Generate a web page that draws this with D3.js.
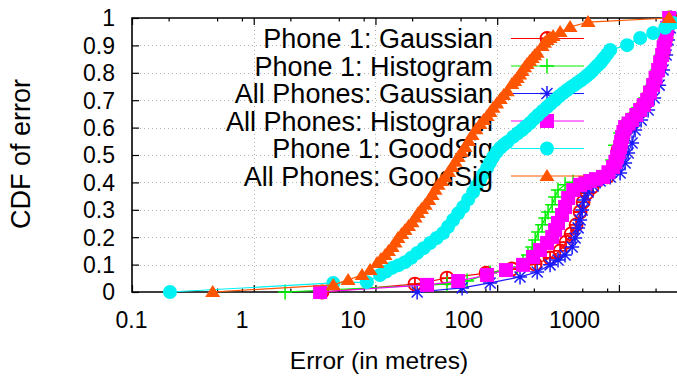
<!DOCTYPE html>
<html>
<head>
<meta charset="utf-8">
<script src="https://cdn.jsdelivr.net/npm/d3@7"></script>
<style>
  body { margin: 0; background: #fff; }
  svg { display: block; }
  text { font-family: "Liberation Sans", Arial, Helvetica, sans-serif; fill: #000; }
</style>
</head>
<body>
<svg id="chart" width="677" height="378"></svg>
<script>
// ---- Data: localisation error (metres) and CDF value for each method ----
const seriesNames = [
  "Phone 1: Gaussian", "Phone 1: Histogram", "All Phones: Gaussian",
  "All Phones: Histogram", "Phone 1: GoodSig", "All Phones: GoodSig"
];

const phone1GaussianErr = [3.64, 21.1, 38.7, 81.1, 132, 205, 272, 329, 368, 405, 445, 480, 508, 548, 602, 675, 800, 912, 984, 1062, 1167, 1333, 1552, 1738, 1946, 2140, 2306, 2443, 2536, 2636];
const phone1GaussianCdf = [0, 0.029, 0.051, 0.069, 0.084, 0.102, 0.124, 0.150, 0.182, 0.212, 0.245, 0.292, 0.328, 0.361, 0.383, 0.409, 0.420, 0.464, 0.518, 0.562, 0.602, 0.635, 0.675, 0.712, 0.763, 0.818, 0.872, 0.927, 0.971, 1];

const phone1HistogramErr = [1.81, 38.7, 56.6, 87.5, 146, 163, 179, 194, 205, 217, 234, 248, 262, 283, 299, 316, 361, 420, 580, 741, 879, 929, 1023, 1191, 1439, 1641, 1874, 2060, 2222, 2350, 2443, 2536];
const phone1HistogramCdf = [0, 0.029, 0.040, 0.069, 0.091, 0.109, 0.135, 0.164, 0.190, 0.219, 0.245, 0.270, 0.292, 0.318, 0.347, 0.372, 0.391, 0.401, 0.409, 0.423, 0.482, 0.536, 0.580, 0.628, 0.672, 0.708, 0.755, 0.810, 0.865, 0.920, 0.964, 1];

const allGaussianErr = [22.0, 51.5, 87.5, 154, 213, 272, 316, 361, 413, 437, 462, 480, 499, 518, 558, 614, 701, 848, 1023, 1124, 1191, 1283, 1358, 1522, 1738, 1946, 2140, 2306, 2443, 2536, 2636, 2685];
const allGaussianCdf = [0, 0.015, 0.033, 0.055, 0.073, 0.099, 0.117, 0.135, 0.164, 0.197, 0.234, 0.263, 0.299, 0.336, 0.365, 0.387, 0.405, 0.420, 0.434, 0.471, 0.507, 0.544, 0.591, 0.628, 0.664, 0.708, 0.755, 0.810, 0.865, 0.920, 0.964, 1];

const allHistogramErr = [3.51, 26.5, 47.8, 82.6, 118, 163, 197, 225, 257, 283, 299, 316, 341, 361, 383, 421, 480, 530, 580, 650, 741, 820, 895, 935, 966, 995, 1023, 1042, 1062, 1090, 1124, 1200, 1283, 1390, 1493, 1600, 1706, 1800, 1910, 2000, 2099, 2180, 2265, 2330, 2398, 2445, 2489, 2586];
const allHistogramCdf = [0, 0.026, 0.040, 0.062, 0.080, 0.099, 0.128, 0.153, 0.179, 0.201, 0.226, 0.252, 0.281, 0.310, 0.343, 0.372, 0.391, 0.398, 0.405, 0.412, 0.420, 0.437, 0.456, 0.475, 0.493, 0.511, 0.529, 0.548, 0.566, 0.584, 0.602, 0.615, 0.628, 0.646, 0.664, 0.682, 0.701, 0.728, 0.755, 0.782, 0.810, 0.838, 0.865, 0.893, 0.920, 0.942, 0.964, 1];

const phone1GoodSigErr = [0.205, 4.5, 8.5, 10.9, 12.2, 13.7, 15.5, 17.5, 19.7, 22.0, 24.9, 28.1, 31.8, 35.9, 39.5, 43.4, 47.8, 52.5, 57.8, 63.4, 67.7, 72.3, 77.3, 82.6, 87.4, 92.5, 99.0, 106, 113, 121, 135, 147, 160, 172, 186, 201, 217, 236, 257, 277, 299, 322, 348, 372, 397, 425, 453, 485, 518, 548, 580, 608, 638, 668, 701, 728, 755, 800, 848, 1167, 1493, 1910, 2398, 2793, 3200];
const phone1GoodSigCdf = [0, 0.033, 0.036, 0.062, 0.075, 0.088, 0.098, 0.109, 0.125, 0.142, 0.160, 0.179, 0.197, 0.215, 0.238, 0.263, 0.287, 0.310, 0.338, 0.365, 0.387, 0.409, 0.431, 0.453, 0.473, 0.493, 0.511, 0.526, 0.537, 0.547, 0.566, 0.579, 0.591, 0.604, 0.617, 0.632, 0.646, 0.661, 0.675, 0.688, 0.701, 0.714, 0.726, 0.736, 0.745, 0.754, 0.763, 0.772, 0.781, 0.790, 0.799, 0.808, 0.818, 0.827, 0.836, 0.845, 0.854, 0.868, 0.883, 0.901, 0.927, 0.945, 0.964, 0.982, 1];

const allGoodSigErr = [0.46, 4.5, 5.96, 7.76, 9.03, 10.3, 11.1, 12.0, 12.8, 13.7, 14.5, 15.3, 16.4, 17.5, 18.7, 20.0, 21.2, 22.4, 23.9, 25.6, 27.4, 29.2, 30.9, 32.7, 35.0, 37.3, 39.8, 42.6, 45.2, 47.8, 51.0, 54.4, 58.2, 62.2, 67.0, 72.3, 77.3, 82.6, 87.4, 92.5, 99.0, 106, 113, 121, 132, 139, 146, 153, 160, 168, 176, 185, 194, 203, 213, 234, 245, 257, 272, 288, 329, 397, 558, 2586];
const allGoodSigCdf = [0, 0.026, 0.044, 0.062, 0.080, 0.106, 0.120, 0.135, 0.150, 0.164, 0.181, 0.197, 0.212, 0.226, 0.241, 0.255, 0.272, 0.288, 0.303, 0.318, 0.336, 0.354, 0.373, 0.391, 0.405, 0.420, 0.438, 0.456, 0.475, 0.493, 0.511, 0.529, 0.551, 0.573, 0.594, 0.613, 0.628, 0.642, 0.657, 0.672, 0.688, 0.704, 0.719, 0.733, 0.759, 0.770, 0.781, 0.794, 0.807, 0.820, 0.832, 0.843, 0.854, 0.864, 0.873, 0.898, 0.910, 0.920, 0.927, 0.934, 0.949, 0.967, 0.985, 1];

// ---- Axis ticks ----
const xTickValues = [0.1, 1, 10, 100, 1000];
const xTickLabels = ["0.1", "1", "10", "100", "1000"];
const xMinorValues = [0.2, 0.5, 0.8, 2, 5, 8, 20, 50, 80, 200, 500, 800, 2000];
const yTickValues = [0, 0.1, 0.2, 0.3, 0.4, 0.5, 0.6, 0.7, 0.8, 0.9, 1];
const yTickLabels = ["0", "0.1", "0.2", "0.3", "0.4", "0.5", "0.6", "0.7", "0.8", "0.9", "1"];

// ---- Layout ----
const plot = { left: 132, right: 677, top: 18, bottom: 292 };
const FONT = "Liberation Sans, Arial, Helvetica, sans-serif";

const x = d3.scaleLog().domain([0.1, 3000]).range([plot.left, plot.right]);
// the decade labels sit on their own, slightly tighter spacing
const xLabelPos = d3.scaleLog().domain([0.1, 1000]).range([131, 574]);
const y = d3.scaleLinear().domain([0, 1]).range([plot.bottom, plot.top]);

const svg = d3.select("#chart");

// ---- Dotted grid ----
const grid = svg.append("g")
  .attr("stroke", "#b4b4b4").attr("stroke-width", 1).attr("stroke-dasharray", "1,3").attr("fill", "none");
grid.selectAll("line.gy").data(yTickValues.filter(v => v > 0 && v < 1)).join("line")
  .attr("class", "gy")
  .attr("x1", plot.left).attr("x2", plot.right)
  .attr("y1", d => Math.round(y(d)) + 0.5).attr("y2", d => Math.round(y(d)) + 0.5);
grid.selectAll("line.gx").data(xTickValues.filter(v => v > 0.1)).join("line")
  .attr("class", "gx")
  .attr("x1", d => Math.round(x(d)) + 0.5).attr("x2", d => Math.round(x(d)) + 0.5)
  .attr("y1", plot.top).attr("y2", plot.bottom);

// ---- Tick marks (inward, mirrored on top) ----
function tickMarks(axis, ty, size, values, scale) {
  const g = svg.append("g").attr("transform", `translate(0,${ty})`)
    .call(axis(scale).tickValues(values).tickSize(size).tickFormat(""));
  g.select(".domain").remove();
  g.selectAll(".tick line").attr("stroke", "#000").attr("stroke-width", 1.2);
}
tickMarks(d3.axisBottom, plot.bottom, -7, xTickValues, x);
tickMarks(d3.axisBottom, plot.bottom, -3.5, xMinorValues, x);
tickMarks(d3.axisTop, plot.top, -7, xTickValues, x);
tickMarks(d3.axisTop, plot.top, -3.5, xMinorValues, x);

const yTicks = svg.append("g").attr("transform", `translate(${plot.left},0)`)
  .call(d3.axisLeft(y).tickValues(yTickValues).tickSize(-7).tickFormat(""));
yTicks.select(".domain").remove();
yTicks.selectAll(".tick line").attr("stroke", "#000").attr("stroke-width", 1.2);

// ---- Tick labels ----
const xLab = svg.append("g").attr("transform", `translate(0,${plot.bottom})`)
  .call(d3.axisBottom(xLabelPos).tickValues(xTickValues).tickSize(0)
    .tickFormat((d, i) => xTickLabels[i]));
xLab.select(".domain").remove();
xLab.attr("font-size", 23).attr("font-family", FONT);
xLab.selectAll("text").attr("y", 36).attr("dy", null).attr("fill", "#000");

const yLab = svg.append("g").attr("transform", `translate(${plot.left},0)`)
  .call(d3.axisLeft(y).tickValues(yTickValues).tickSize(0).tickPadding(17)
    .tickFormat((d, i) => yTickLabels[i]));
yLab.select(".domain").remove();
yLab.attr("font-size", 23).attr("font-family", FONT);
yLab.selectAll("text").attr("dy", "0.34em").attr("fill", "#000");

// ---- Frame (right edge falls just outside the canvas) ----
svg.append("path")
  .attr("d", `M${plot.right + 2},${plot.top} H${plot.left} V${plot.bottom} H${plot.right + 2}`)
  .attr("fill", "none").attr("stroke", "#000").attr("stroke-width", 1.6);

// ---- Axis titles ----
svg.append("text").attr("x", 379).attr("y", 369).attr("text-anchor", "middle")
  .attr("font-size", 24.5).text("Error (in metres)");
svg.append("text").attr("transform", "translate(30,154) rotate(-90)").attr("text-anchor", "middle")
  .attr("font-size", 27).text("CDF of error");

// ---- Point symbols ----
function markerPath(kind) {
  const p = d3.path();
  if (kind === "circlePlus") {
    p.moveTo(6.5, 0); p.arc(0, 0, 6.5, 0, 2 * Math.PI);
    p.moveTo(0, -6.5); p.lineTo(0, 6.5); p.moveTo(-6.5, 0); p.lineTo(6.5, 0);
  } else if (kind === "plus") {
    p.moveTo(-7, 0); p.lineTo(7, 0); p.moveTo(0, -7.5); p.lineTo(0, 7.5);
  } else if (kind === "asterisk") {
    p.moveTo(-7, 0); p.lineTo(7, 0); p.moveTo(0, -7.5); p.lineTo(0, 7.5);
    p.moveTo(-5.5, -5.5); p.lineTo(5.5, 5.5); p.moveTo(-5.5, 5.5); p.lineTo(5.5, -5.5);
  } else if (kind === "square") {
    p.rect(-7, -7, 14, 14);
  } else if (kind === "disc") {
    p.moveTo(7, 0); p.arc(0, 0, 7, 0, 2 * Math.PI);
  } else if (kind === "triangle") {
    p.moveTo(0, -7); p.lineTo(7.5, 5); p.lineTo(-7.5, 5); p.closePath();
  }
  return p.toString();
}
const filledKinds = new Set(["square", "disc", "triangle"]);
function styleMarker(sel, kind, color) {
  sel.attr("d", markerPath(kind));
  if (filledKinds.has(kind)) sel.attr("fill", color).attr("stroke", "none");
  else sel.attr("fill", "none").attr("stroke", color).attr("stroke-width", kind === "circlePlus" ? 1.8 : 1.5);
}

const series = [
  { name: seriesNames[0], err: phone1GaussianErr, cdf: phone1GaussianCdf, color: "#ff0000", kind: "circlePlus" },
  { name: seriesNames[1], err: phone1HistogramErr, cdf: phone1HistogramCdf, color: "#00f000", kind: "plus" },
  { name: seriesNames[2], err: allGaussianErr, cdf: allGaussianCdf, color: "#1a1aff", kind: "asterisk" },
  { name: seriesNames[3], err: allHistogramErr, cdf: allHistogramCdf, color: "#ff00ff", kind: "square" },
  { name: seriesNames[4], err: phone1GoodSigErr, cdf: phone1GoodSigCdf, color: "#00f2f2", kind: "disc" },
  { name: seriesNames[5], err: allGoodSigErr, cdf: allGoodSigCdf, color: "#ff5500", kind: "triangle" }
];

const line = d3.line().x(d => x(d[0])).y(d => y(d[1]));
const legend = { textRight: 493, lineX1: 511, lineX2: 584, markX: 547, firstY: 38.5, step: 27.5 };

series.forEach((s, i) => {
  const g = svg.append("g");
  // key entry
  const ky = legend.firstY + i * legend.step;
  g.append("text").attr("x", legend.textRight).attr("y", ky + 9.5)
    .attr("text-anchor", "end").attr("font-size", 27).text(s.name);
  g.append("line").attr("x1", legend.lineX1).attr("x2", legend.lineX2)
    .attr("y1", ky).attr("y2", ky).attr("stroke", s.color).attr("stroke-width", 1.2);
  styleMarker(g.append("path").attr("transform", `translate(${legend.markX},${ky})`), s.kind, s.color);

  // curve
  const pts = s.err.map((e, k) => [e, s.cdf[k]]);
  g.append("path").datum(pts).attr("d", line)
    .attr("fill", "none").attr("stroke", s.color).attr("stroke-width", 1.2);
  g.selectAll("path.pt").data(pts.filter(d => d[0] <= x.domain()[1])).join("path")
    .attr("class", "pt")
    .attr("transform", d => `translate(${x(d[0])},${y(d[1])})`)
    .call(sel => styleMarker(sel, s.kind, s.color));
});
</script>
</body>
</html>
